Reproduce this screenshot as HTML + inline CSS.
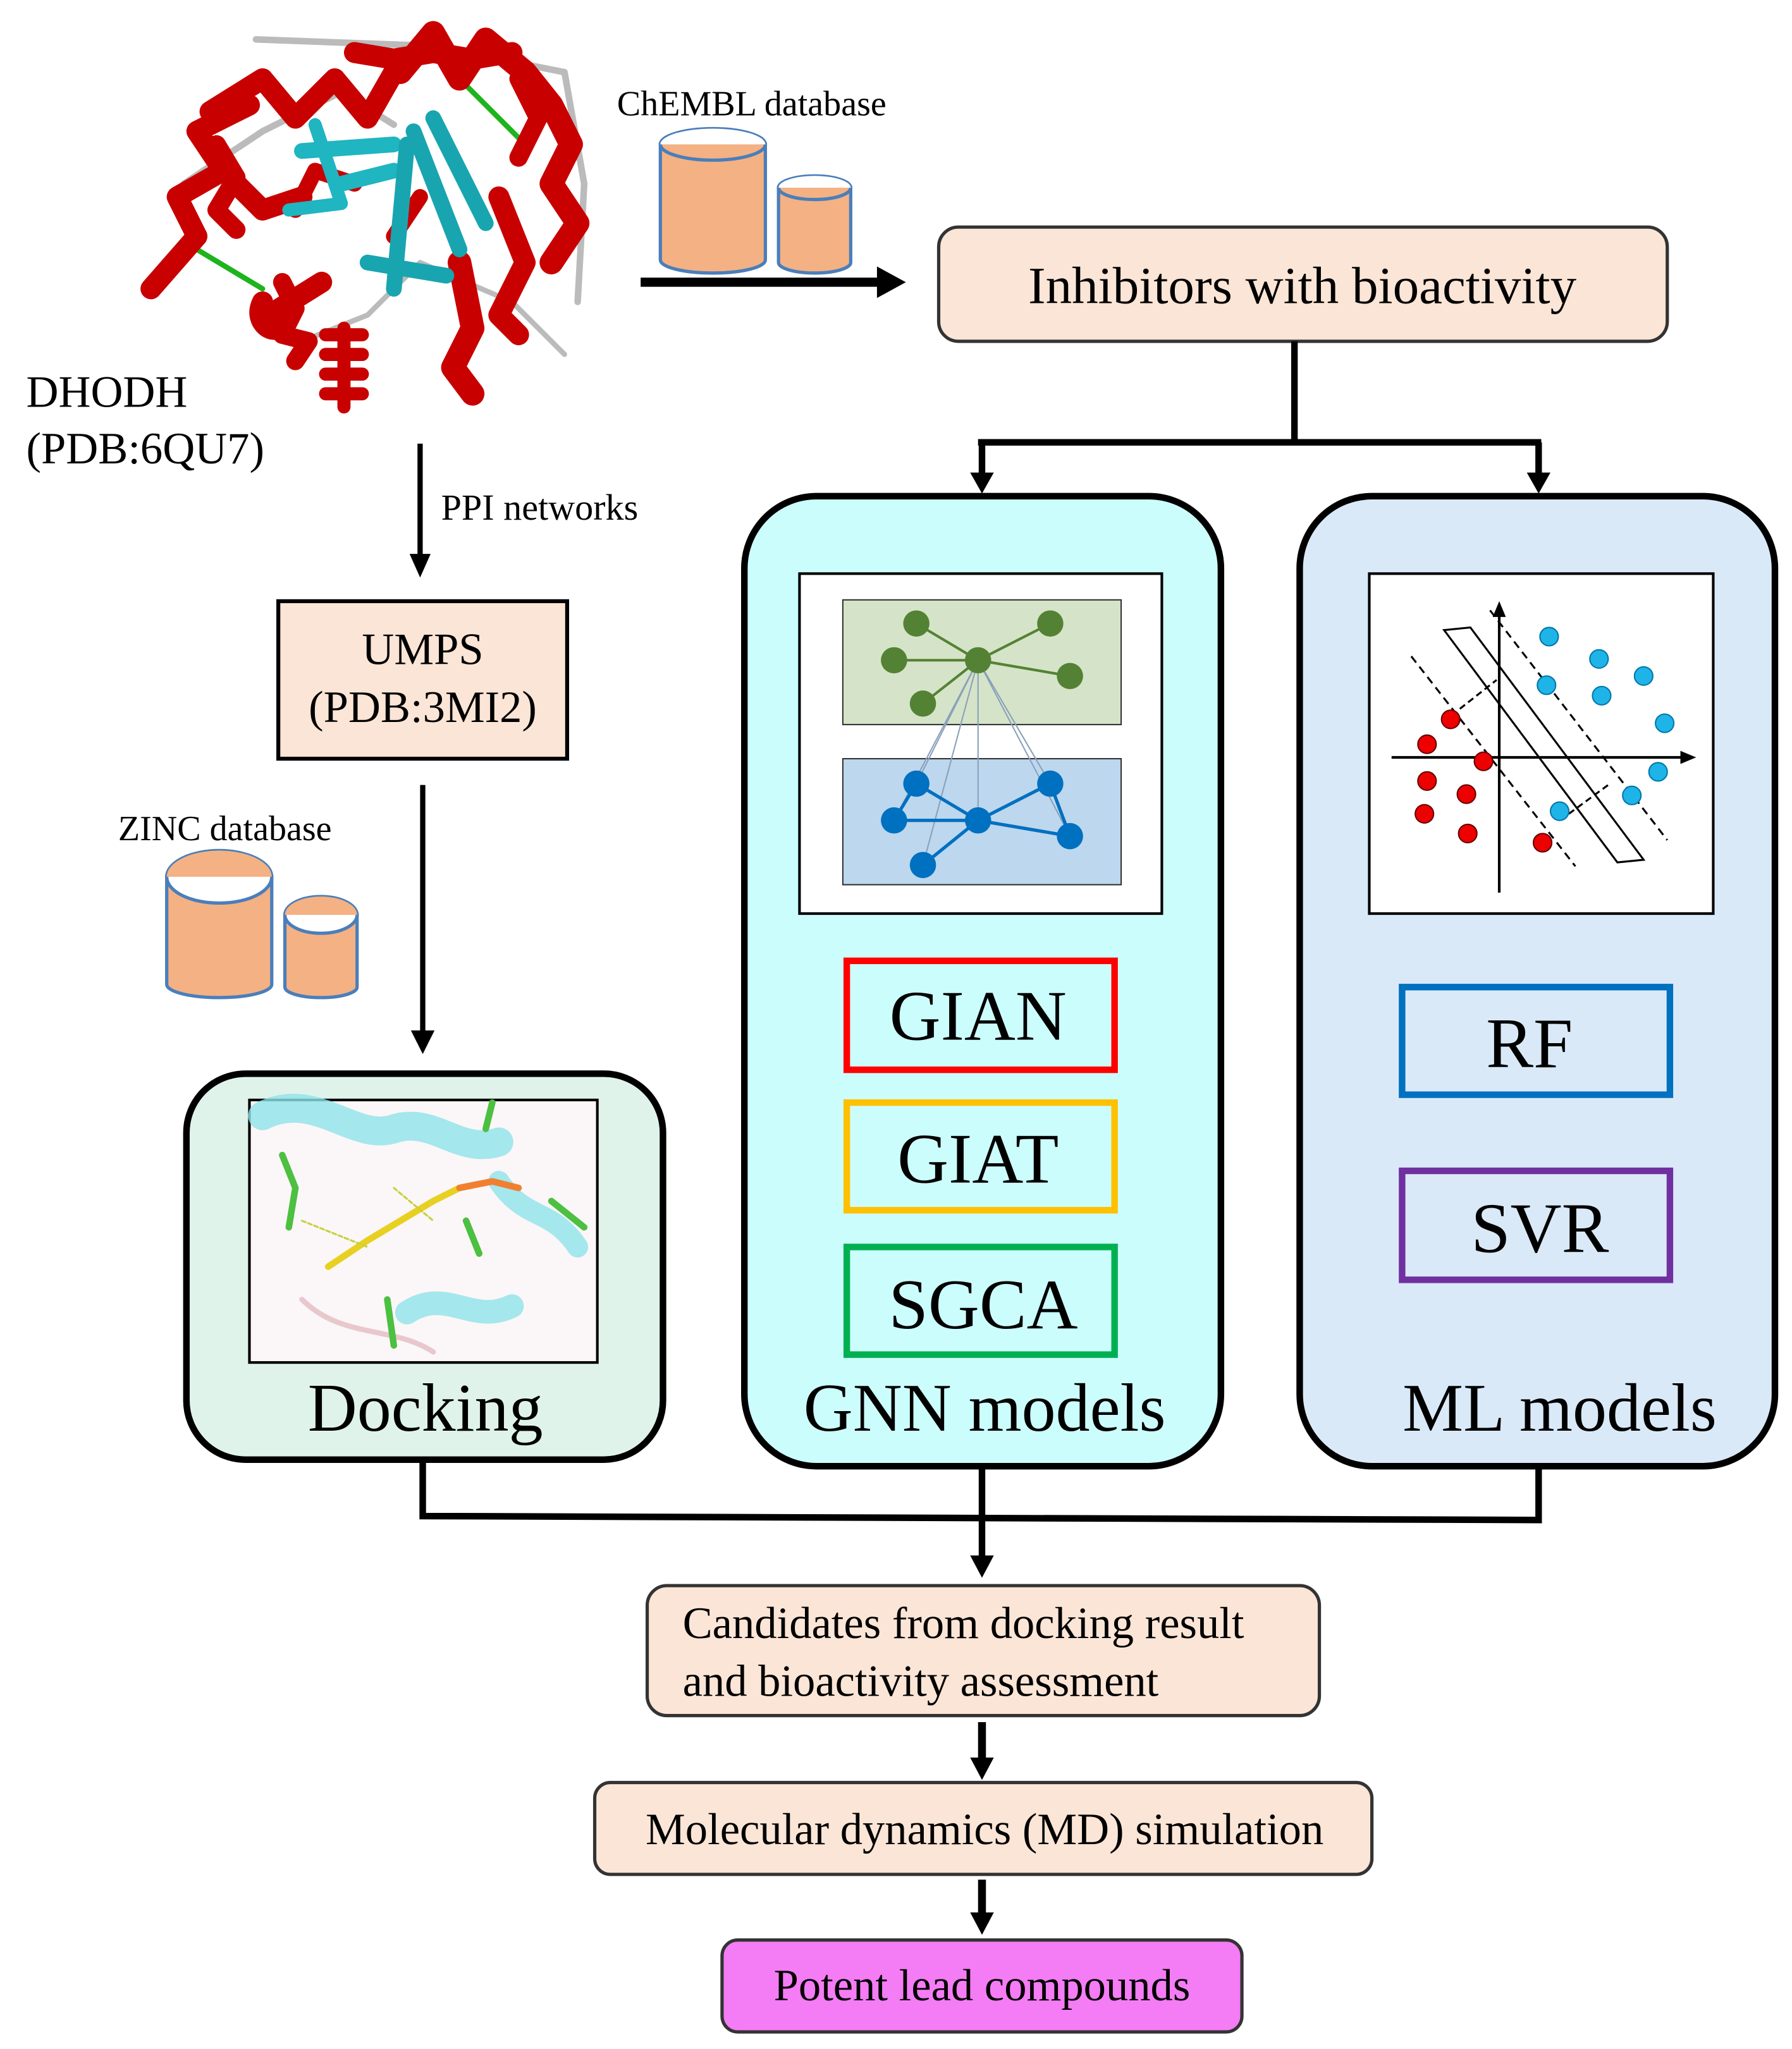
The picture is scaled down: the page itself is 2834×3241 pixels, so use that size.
<!DOCTYPE html>
<html><head><meta charset="utf-8"><style>
html,body{margin:0;padding:0;background:#fff}
svg{display:block}
text{font-family:"Liberation Serif",serif;fill:#000}
</style></head><body>
<svg width="2834" height="3241" viewBox="0 0 1365 1561" xmlns="http://www.w3.org/2000/svg">
<rect width="1365" height="1561" fill="#fff"/>

<!-- protein -->
<g fill="none" stroke-linecap="round" stroke-linejoin="round">
<path d="M195,30 L330,35 L430,55 L445,140 L440,230" stroke="#bbb" stroke-width="5"/>
<path d="M140,140 L200,100 L260,70 L300,95" stroke="#bbb" stroke-width="5"/>
<path d="M230,260 L280,240 L320,200 L390,230 L430,270" stroke="#bbb" stroke-width="4"/>
<path d="M150,190 L200,220" stroke="#1db41d" stroke-width="4"/>
<path d="M350,60 L400,110" stroke="#1db41d" stroke-width="4"/>
<path d="M115,220 L150,180 L135,150 L170,130 L150,100 L190,80" stroke="#c80000" stroke-width="16"/>
<path d="M160,85 L200,60 L225,90 L255,60 L280,90 L300,55" stroke="#c80000" stroke-width="16"/>
<path d="M305,55 L330,25 L350,60 L370,30 L400,55 L420,80 L435,110 L420,140 L440,170 L420,200" stroke="#c80000" stroke-width="18"/>
<path d="M270,40 L300,45 L330,40 L360,45 L390,40" stroke="#c80000" stroke-width="16"/>
<path d="M395,60 L410,90 L395,120" stroke="#c80000" stroke-width="14"/>
<path d="M200,230 C190,250 220,260 210,240 M205,240 L245,215" stroke="#c80000" stroke-width="16"/>
<path d="M215,215 L225,235 L215,255 L235,260 L225,275" stroke="#c80000" stroke-width="14"/>
<path d="M262,250 L262,310 M248,255 L276,255 M248,270 L276,270 M248,285 L276,285 M248,300 L276,300" stroke="#c80000" stroke-width="10"/>
<path d="M350,200 L360,250 L345,280 L360,300" stroke="#c80000" stroke-width="18"/>
<path d="M380,150 L400,200 L380,240 L395,255" stroke="#c80000" stroke-width="16"/>
<path d="M180,140 L200,160 L230,150" stroke="#c80000" stroke-width="16"/>
<path d="M165,110 L180,135 L165,160 L180,175" stroke="#c80000" stroke-width="14"/>
<path d="M225,160 L240,130 L270,140 M300,180 L320,150" stroke="#c80000" stroke-width="12"/>
<path d="M220,160 L260,155 L240,95" stroke="#1fb5c1" stroke-width="10"/>
<path d="M230,115 L300,110 M260,140 L300,130" stroke="#1fb5c1" stroke-width="12"/>
<path d="M310,110 L300,220 M315,100 L350,190 M330,90 L370,170 M280,200 L340,210" stroke="#18a5b0" stroke-width="12"/>
</g>
<text x="20" y="310" font-size="34">DHODH</text>
<text x="20" y="353" font-size="34">(PDB:6QU7)</text>

<!-- ChEMBL -->
<text x="470" y="88" font-size="27">ChEMBL database</text>
<g stroke="#4a7ebb" stroke-width="2.5">
<path d="M503,110 L503,198 A40,10 0 0 0 583,198 L583,110 Z" fill="#f4b183"/>
<ellipse cx="543" cy="110" rx="40" ry="12" fill="#f4b183"/>
<path d="M503,110 A40,12 0 0 1 583,110 Z" fill="#fff" stroke="none"/>
<path d="M593,143 L593,200 A27.5,8 0 0 0 648,200 L648,143 Z" fill="#f4b183"/>
<ellipse cx="620.5" cy="143" rx="27.5" ry="9" fill="#f4b183"/>
<path d="M593,143 A27.5,9 0 0 1 648,143 Z" fill="#fff" stroke="none"/>
</g>
<line x1="488" y1="215" x2="672" y2="215" stroke="#000" stroke-width="7"/>
<path d="M668,203 L690,215 L668,227 z" fill="#000"/>

<rect x="715" y="173" width="555" height="87" rx="15" fill="#fbe5d6" stroke="#333" stroke-width="2.5"/>
<text x="992" y="231" font-size="40" text-anchor="middle">Inhibitors with bioactivity</text>

<g stroke="#000" stroke-width="5" fill="none">
<path d="M986,260 L986,337 M745,337 L1174,337 M748,337 L748,365 M1172,337 L1172,365"/>
</g>
<path d="M739,360 L748,376 L757,360 z M1163,360 L1172,376 L1181,360 z" fill="#000"/>

<!-- GNN panel -->
<rect x="567" y="378" width="363" height="739" rx="55" fill="#ccfdfd" stroke="#000" stroke-width="5"/>
<rect x="609" y="437" width="276" height="259" fill="#fff" stroke="#000" stroke-width="2"/>
<rect x="642" y="457" width="212" height="95" fill="#d5e4c8" stroke="#333" stroke-width="1"/>
<rect x="642" y="578" width="212" height="96" fill="#bdd7ee" stroke="#333" stroke-width="1"/>
<g stroke="#8aa0bb" stroke-width="1">
<path d="M745,503 L698,597 M745,503 L800,597 M745,503 L681,625 M745,503 L815,637 M745,503 L703,659 M745,503 L745,625"/>
</g>
<g stroke="#548235" stroke-width="2"><path d="M745,503 L698,475 M745,503 L800,475 M745,503 L681,503 M745,503 L815,515 M745,503 L703,536"/></g>
<g fill="#548235"><circle cx="745" cy="503" r="10"/><circle cx="698" cy="475" r="10"/><circle cx="800" cy="475" r="10"/><circle cx="681" cy="503" r="10"/><circle cx="815" cy="515" r="10"/><circle cx="703" cy="536" r="10"/></g>
<g stroke="#0070c0" stroke-width="2.5"><path d="M745,625 L698,597 M745,625 L800,597 M745,625 L681,625 M745,625 L815,637 M745,625 L703,659 M698,597 L681,625 M800,597 L815,637"/></g>
<g fill="#0070c0"><circle cx="745" cy="625" r="10"/><circle cx="698" cy="597" r="10"/><circle cx="800" cy="597" r="10"/><circle cx="681" cy="625" r="10"/><circle cx="815" cy="637" r="10"/><circle cx="703" cy="659" r="10"/></g>
<rect x="645" y="732" width="204" height="83" fill="none" stroke="#f00" stroke-width="5"/>
<text x="745" y="792" font-size="54" text-anchor="middle">GIAN</text>
<rect x="645" y="840" width="204" height="82" fill="none" stroke="#ffc000" stroke-width="5"/>
<text x="745" y="901" font-size="54" text-anchor="middle">GIAT</text>
<rect x="645" y="950" width="204" height="82" fill="none" stroke="#00b050" stroke-width="5"/>
<text x="749" y="1012" font-size="54" text-anchor="middle">SGCA</text>
<text x="750" y="1090" font-size="52" text-anchor="middle">GNN models</text>

<!-- ML panel -->
<rect x="990" y="378" width="362" height="739" rx="55" fill="#dae9f8" stroke="#000" stroke-width="5"/>
<rect x="1043" y="437" width="262" height="259" fill="#fff" stroke="#000" stroke-width="2"/>
<g stroke="#000" stroke-width="2" fill="none">
<path d="M1060,577 L1285,577"/><path d="M1142,680 L1142,465"/>
<path d="M1100,480 L1120,478 L1252,655 L1232,657 Z" stroke-width="1.5"/>
<path d="M1075,500 L1200,660 M1135,465 L1270,640" stroke-dasharray="6,4" stroke-width="1.5"/>
<path d="M1112,540 L1140,518 M1195,620 L1225,598" stroke-dasharray="5,3" stroke-width="1.5"/>
</g>
<path d="M1280,572 L1292,577 L1280,582 z M1137,470 L1142,458 L1147,470 z" fill="#000"/>
<g fill="#e00" stroke="#600" stroke-width="1"><circle cx="1105" cy="548" r="7"/><circle cx="1087" cy="567" r="7"/><circle cx="1130" cy="580" r="7"/><circle cx="1087" cy="595" r="7"/><circle cx="1117" cy="605" r="7"/><circle cx="1085" cy="620" r="7"/><circle cx="1118" cy="635" r="7"/><circle cx="1175" cy="642" r="7"/></g>
<g fill="#1eb4e8" stroke="#07a" stroke-width="1"><circle cx="1180" cy="485" r="7"/><circle cx="1218" cy="502" r="7"/><circle cx="1252" cy="515" r="7"/><circle cx="1178" cy="522" r="7"/><circle cx="1220" cy="530" r="7"/><circle cx="1268" cy="551" r="7"/><circle cx="1263" cy="588" r="7"/><circle cx="1243" cy="606" r="7"/><circle cx="1188" cy="618" r="7"/></g>
<rect x="1068" y="752" width="204" height="82" fill="none" stroke="#0070c0" stroke-width="5"/>
<text x="1165" y="813" font-size="54" text-anchor="middle">RF</text>
<rect x="1068" y="892" width="204" height="83" fill="none" stroke="#7030a0" stroke-width="5"/>
<text x="1173" y="954" font-size="54" text-anchor="middle">SVR</text>
<text x="1188" y="1090" font-size="52" text-anchor="middle">ML models</text>

<!-- left column -->
<line x1="320" y1="338" x2="320" y2="425" stroke="#000" stroke-width="4"/>
<path d="M312,422 L320,440 L328,422 z" fill="#000"/>
<text x="336" y="396" font-size="28">PPI networks</text>
<rect x="212" y="458" width="220" height="120" fill="#fbe5d6" stroke="#000" stroke-width="3"/>
<text x="322" y="506" font-size="34" text-anchor="middle">UMPS</text>
<text x="322" y="550" font-size="34" text-anchor="middle">(PDB:3MI2)</text>
<line x1="322" y1="598" x2="322" y2="787" stroke="#000" stroke-width="4"/>
<path d="M313,785 L322,803 L331,785 z" fill="#000"/>
<text x="90" y="640" font-size="27">ZINC database</text>
<g stroke="#4a7ebb" stroke-width="2.5">
<path d="M127,668 L127,750 A40,10 0 0 0 207,750 L207,668 Z" fill="#f4b183"/>
<ellipse cx="167" cy="668" rx="40" ry="20" fill="#fff"/>
<path d="M167,648 A40,20 0 0 1 207,668 L127,668 A40,20 0 0 1 167,648 Z" fill="#f4b183" stroke="none"/>
<path d="M217,697 L217,752 A27.5,8 0 0 0 272,752 L272,697 Z" fill="#f4b183"/>
<ellipse cx="244.5" cy="697" rx="27.5" ry="14" fill="#fff"/>
<path d="M244.5,683 A27.5,14 0 0 1 272,697 L217,697 A27.5,14 0 0 1 244.5,683 Z" fill="#f4b183" stroke="none"/>
</g>

<!-- Docking panel -->
<rect x="142" y="818" width="363" height="294" rx="45" fill="#dff3ea" stroke="#000" stroke-width="5"/>
<rect x="190" y="838" width="265" height="200" fill="#fbf6f7" stroke="#000" stroke-width="2"/>
<g fill="none" stroke-linecap="round">
<path d="M200,850 C240,830 270,870 300,860 C330,850 350,880 380,870" stroke="#8fe3ea" stroke-width="22" opacity="0.8"/>
<path d="M380,900 C400,930 420,920 440,950" stroke="#8fe3ea" stroke-width="16" opacity="0.8"/>
<path d="M310,1000 C340,980 360,1010 390,995" stroke="#8fe3ea" stroke-width="18" opacity="0.8"/>
<path d="M230,990 C260,1020 300,1010 330,1030" stroke="#e8c8cc" stroke-width="4"/>
<path d="M250,965 L280,945 L305,930 L330,915 L350,905" stroke="#e8d020" stroke-width="5"/>
<path d="M350,905 L375,900 L395,905" stroke="#f08030" stroke-width="5"/>
<path d="M215,880 L225,905 L220,935 M370,860 L375,840 M420,915 L445,935 M295,990 L300,1025 M355,930 L365,955" stroke="#4cc040" stroke-width="5"/>
<path d="M230,930 L280,950 M300,905 L330,930" stroke="#c8d040" stroke-width="1.5" stroke-dasharray="3,2"/>
</g>
<text x="324" y="1090" font-size="52" text-anchor="middle">Docking</text>

<!-- bottom connectors -->
<g stroke="#000" stroke-width="5" fill="none">
<path d="M322,1112 L322,1155 L1172,1158 L1172,1117"/>
<path d="M748,1117 L748,1188"/>
</g>
<path d="M739,1185 L748,1202 L757,1185 z" fill="#000"/>
<rect x="493" y="1208" width="512" height="99" rx="15" fill="#fbe5d6" stroke="#333" stroke-width="2.5"/>
<text x="520" y="1248" font-size="34">Candidates from docking result</text>
<text x="520" y="1292" font-size="34">and bioactivity assessment</text>
<line x1="748" y1="1312" x2="748" y2="1342" stroke="#000" stroke-width="6"/>
<path d="M739,1339 L748,1356 L757,1339 z" fill="#000"/>
<rect x="453" y="1358" width="592" height="70" rx="12" fill="#fbe5d6" stroke="#333" stroke-width="2.5"/>
<text x="750" y="1405" font-size="34" text-anchor="middle">Molecular dynamics (MD) simulation</text>
<line x1="748" y1="1432" x2="748" y2="1460" stroke="#000" stroke-width="6"/>
<path d="M739,1457 L748,1474 L757,1457 z" fill="#000"/>
<rect x="550" y="1478" width="396" height="70" rx="12" fill="#f47cf4" stroke="#333" stroke-width="2.5"/>
<text x="748" y="1524" font-size="34" text-anchor="middle">Potent lead compounds</text>
</svg>
</body></html>
